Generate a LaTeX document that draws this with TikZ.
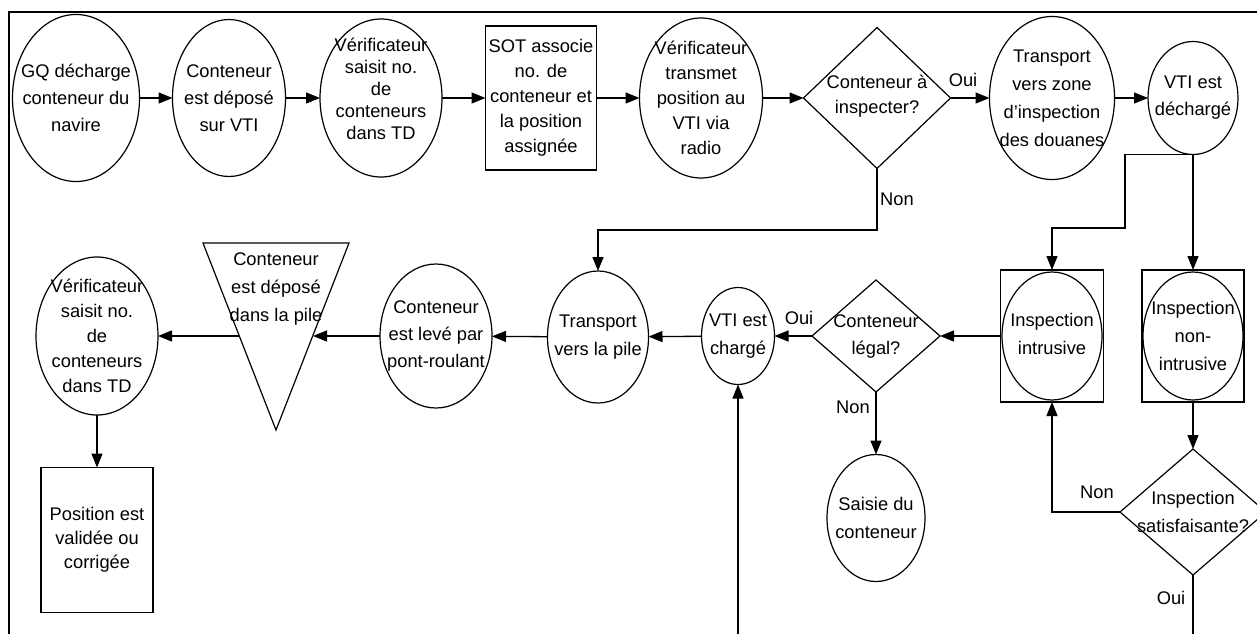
\documentclass[tikz,border=0pt]{standalone}
\usepackage{fontspec}
\setmainfont{Liberation Sans}
\usetikzlibrary{shapes.geometric,arrows.meta,calc}
\begin{document}
\begin{tikzpicture}[x=1pt,y=-1pt,
  every node/.style={inner sep=0pt, outer sep=0pt},
  shp/.style={draw, line width=1.2pt},
  ell/.style 2 args={shp, ellipse, minimum width=#1pt, minimum height=#2pt},
  box/.style 2 args={shp, rectangle, minimum width=#1pt, minimum height=#2pt},
  dia/.style 2 args={shp, diamond, minimum width=#1pt, minimum height=#2pt},
  txt/.style={font=\fontsize{18.3}{#1}\selectfont, align=center},
  txt/.default=26,
  arr/.style={line width=1.3pt, -{Triangle[length=14pt,width=11pt]}},
  ln/.style={line width=1.3pt},
  lbl/.style={font=\fontsize{18.3}{21}\selectfont}
]
\clip (0,0) rectangle (1257,633);
% frame
\draw[line width=2.5pt] (9,650) -- (9,12) -- (1270,12);

% top row
\node[ell={127}{167}, label={[txt=27]center:GQ décharge\\conteneur du\\navire}] (gq) at (76,98) {};
\node[ell={113}{157}, label={[txt=27]center:Conteneur\\est déposé\\sur VTI}] (dep) at (229,98) {};
\node[ell={122}{158}, label={[txt=22, yshift=9pt]center:Vérificateur\\saisit no.\\de\\conteneurs\\dans TD}] (ver1) at (381,98) {};
\node[box={111}{144}, txt=25] (sot) at (541,98) {SOT associe\\no. de\\conteneur et\\la position\\assignée};
\node[ell={123}{160}, label={[txt=25]center:Vérificateur\\transmet\\position au\\VTI via\\radio}] (trans) at (701,98) {};
\node[dia={147}{141}, label={[txt=25, yshift=2pt]center:Conteneur à\\inspecter?}] (insp) at (877,98) {};
\node[ell={125}{163}, label={[txt=28]center:Transport\\vers zone\\d'inspection\\des douanes}] (zone) at (1052,98) {};
\node[ell={90}{113}, label={[txt=27]center:VTI est\\déchargé}] (dech) at (1193,98) {};

% middle row
\node[box={103}{132}] (insIb) at (1052,336) {};
\node[ell={100}{128}, label={[txt=28, yshift=2pt]center:Inspection\\intrusive}] (insI) at (1052,336) {};
\node[box={102}{132}] (insNb) at (1193,336) {};
\node[ell={100}{128}, label={[txt=28]center:Inspection\\non-\\intrusive}] (insN) at (1193,336) {};
\node[dia={128}{112}, label={[txt=27]center:Conteneur\\légal?}] (leg) at (876,336) {};
\node[ell={73}{97}, label={[txt=28]center:VTI est\\chargé}] (charg) at (738,336) {};
\node[ell={101}{132}, label={[txt=28]center:Transport\\vers la pile}] (pile) at (598,337) {};
\node[ell={112}{144}, label={[txt=27]center:Conteneur\\est levé par\\pont-roulant}] (lev) at (436,336) {};
\draw[shp] (203,243) -- (349,243) -- (276,430) -- cycle;
\node[txt=28] (tri) at (276,289) {Conteneur\\est déposé\\dans la pile};
\coordinate (triR) at (313,336);
\coordinate (triL) at (239,336);
\node[ell={122}{158}, label={[txt=25]center:Vérificateur\\saisit no.\\de\\conteneurs\\dans TD}] (ver2) at (97,336) {};
\node[box={112}{145}, txt=24] (pos) at (97,540) {Position est\\validée ou\\corrigée};

% lower
\node[ell={98}{127}, label={[txt=28]center:Saisie du\\conteneur}] (saisie) at (876,518) {};
\node[dia={146}{126}, label={[txt=28]center:Inspection\\satisfaisante?}] (sat) at (1193,512) {};
\coordinate (bot1) at (1193,645);
\coordinate (bot2) at (738,645);

% connectors
\draw[arr] (gq) -- (dep);
\draw[arr] (dep) -- (ver1);
\draw[arr] (ver1) -- (sot);
\draw[arr] (sot) -- (trans);
\draw[arr] (trans) -- (insp);
\draw[arr] (insp) -- (zone);
\draw[arr] (zone) -- (dech);
\draw[arr] (dech.south) -- (insNb.north);
\draw[arr] (dech.south) -| (1125,228) -| (insIb.north);
\draw[arr] (insp.south) -- (877,230) -| (pile.north);
\draw[arr] (insIb) -- (leg);
\draw[arr] (leg) -- (charg);
\draw[arr] (charg) -- (pile);
\draw[arr] (pile) -- (lev);
\draw[arr] (lev) -- (triR);
\draw[arr] (triL) -- (ver2);
\draw[arr] (ver2) -- (pos);
\draw[arr] (leg) -- (saisie);
\draw[arr] (insNb) -- (sat);
\draw[arr] (sat.west) -| (insIb.south);
\draw[ln] (sat.south) -- (bot1);
\draw[arr] (bot2) -- (charg.south);

% labels
\node[lbl] (l1) at (963,80) {Oui};
\node[lbl] (l2) at (897,199) {Non};
\node[lbl] (l3) at (799,318) {Oui};
\node[lbl] (l4) at (853,407) {Non};
\node[lbl] (l5) at (1097,492) {Non};
\node[lbl] (l6) at (1171,598) {Oui};
\end{tikzpicture}
\end{document}
